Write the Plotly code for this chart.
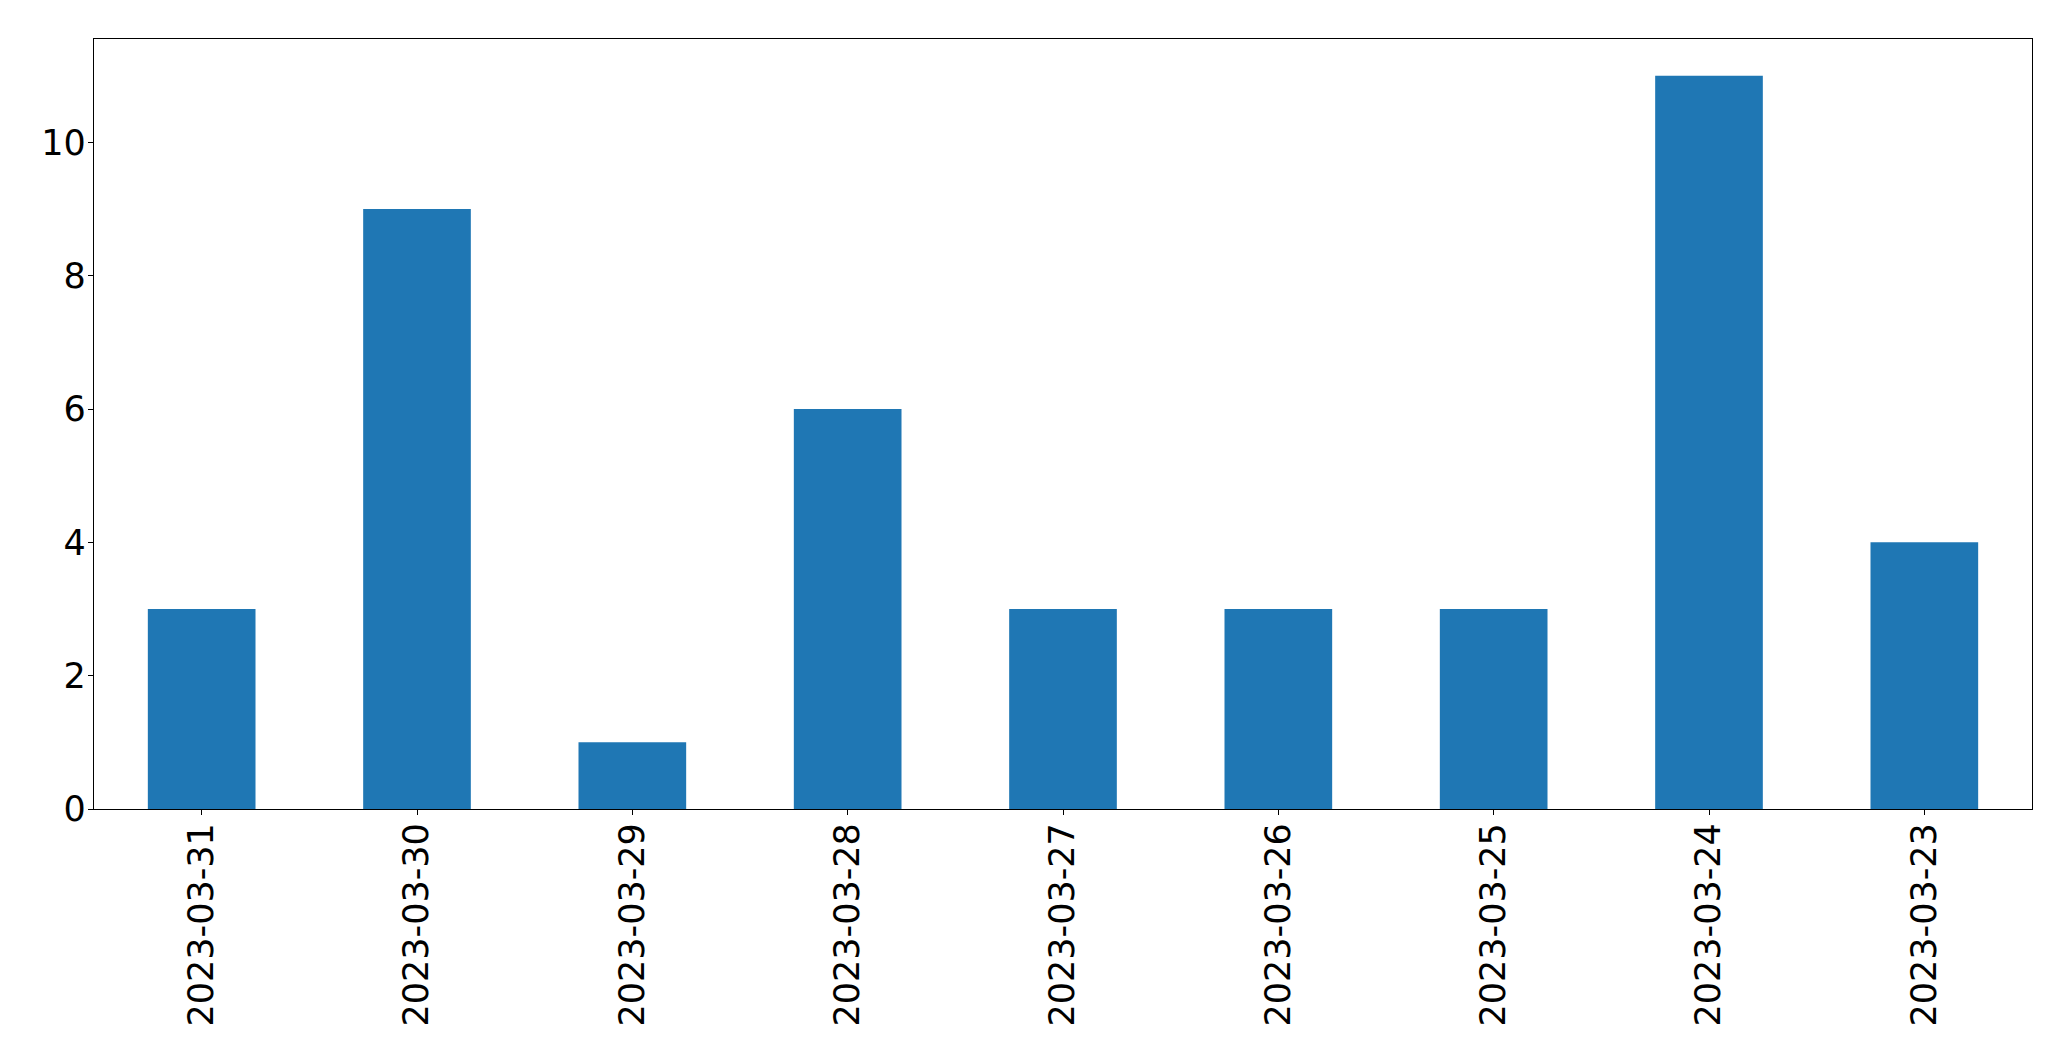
import plotly.graph_objects as go

dates = ["2023-03-31", "2023-03-30", "2023-03-29", "2023-03-28", "2023-03-27",
         "2023-03-26", "2023-03-25", "2023-03-24", "2023-03-23"]
counts = [3, 9, 1, 6, 3, 3, 3, 11, 4]
y_ticks = [0, 2, 4, 6, 8, 10]

fig = go.Figure(go.Bar(x=dates, y=counts, width=0.5, marker_color="#1f77b4",
                       marker_line_width=0))

font = dict(family="DejaVu Sans", size=35, color="black")
fig.update_layout(
    width=2071, height=1061,
    margin=dict(l=86, r=47, t=31, b=260, pad=0),
    plot_bgcolor="white", paper_bgcolor="white",
    showlegend=False, font=font,
)
fig.update_xaxes(type="category", range=[-0.5, len(dates) - 0.5], tickangle=-90,
                 showline=True, linecolor="black", linewidth=1.3, mirror=True,
                 ticks="outside", ticklen=5, tickwidth=1.3, tickcolor="black",
                 showgrid=False, tickfont=font, ticklabelstandoff=-6)
fig.update_yaxes(range=[0, 11.55], tickvals=y_ticks,
                 showline=True, linecolor="black", linewidth=1.3, mirror=True,
                 ticks="outside", ticklen=5, tickwidth=1.3, tickcolor="black",
                 showgrid=False, zeroline=False, tickfont=font, ticklabelstandoff=-5)
fig.write_html("out.html")
